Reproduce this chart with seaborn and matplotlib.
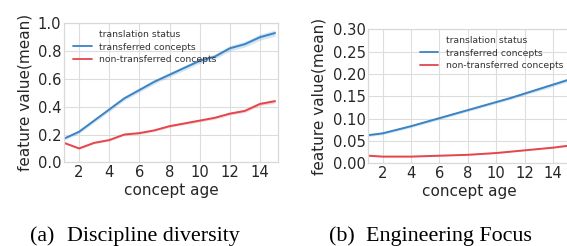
import numpy as np
import pandas as pd
import matplotlib
matplotlib.use("Agg")
import matplotlib.pyplot as plt
from matplotlib.lines import Line2D
import seaborn as sns

# ---- data ----
age = [1, 2, 3, 4, 5, 6, 7, 8, 9, 10, 11, 12, 13, 14, 15]
statuses = ["transferred concepts", "non-transferred concepts"]

div_transferred = [0.17, 0.22, 0.30, 0.38, 0.46, 0.52, 0.58, 0.63, 0.68, 0.73, 0.76, 0.82, 0.85, 0.90, 0.93]
div_transferred_ci = [0.010, 0.012, 0.013, 0.014, 0.015, 0.015, 0.016, 0.016, 0.017, 0.017, 0.018, 0.019, 0.020, 0.021, 0.022]
div_non = [0.14, 0.10, 0.14, 0.16, 0.20, 0.21, 0.23, 0.26, 0.28, 0.30, 0.32, 0.35, 0.37, 0.42, 0.44]
div_non_ci = [0.006, 0.006, 0.006, 0.007, 0.007, 0.008, 0.008, 0.008, 0.009, 0.009, 0.010, 0.010, 0.011, 0.012, 0.013]

eng_transferred = [0.063, 0.067, 0.075, 0.083, 0.092, 0.101, 0.110, 0.119, 0.128, 0.137, 0.146, 0.156, 0.166, 0.176, 0.186]
eng_transferred_ci = [0.003, 0.003, 0.003, 0.003, 0.003, 0.003, 0.003, 0.003, 0.003, 0.003, 0.003, 0.003, 0.004, 0.004, 0.004]
eng_non = [0.017, 0.015, 0.015, 0.015, 0.016, 0.017, 0.018, 0.019, 0.021, 0.023, 0.026, 0.029, 0.032, 0.035, 0.039]
eng_non_ci = [0.001, 0.001, 0.001, 0.001, 0.001, 0.001, 0.001, 0.001, 0.001, 0.001, 0.001, 0.001, 0.001, 0.001, 0.0015]

yticks_a = [0.0, 0.2, 0.4, 0.6, 0.8, 1.0]
yticks_b = [0.00, 0.05, 0.10, 0.15, 0.20, 0.25, 0.30]
xticks = [2, 4, 6, 8, 10, 12, 14]
caption_tags = ["(a)", "(b)"]
caption_titles = ["Discipline diversity", "Engineering Focus"]

colors = {"transferred concepts": "#3b84c4", "non-transferred concepts": "#e4464b"}

sns.set_theme(style="whitegrid")
plt.rcParams["font.family"] = ["DejaVu Sans"]

fig = plt.figure(figsize=(5.67, 2.46), dpi=100)
ax1 = fig.add_axes([0.1129, 0.3402, 0.3774, 0.5650])
ax2 = fig.add_axes([0.6496, 0.3362, 0.3556, 0.5447])


def draw(ax, tr, tr_ci, non, non_ci, yticks, yfmt, leg_anchor):
    df = pd.DataFrame({
        "concept age": age * 2,
        "value": tr + non,
        "translation status": [statuses[0]] * len(age) + [statuses[1]] * len(age),
    })
    sns.lineplot(data=df, x="concept age", y="value", hue="translation status",
                 hue_order=statuses, palette=colors, lw=1.4, ax=ax, errorbar=None)
    for s, v, c in ((statuses[0], tr, tr_ci), (statuses[1], non, non_ci)):
        v = np.array(v); c = np.array(c)
        ax.fill_between(age, v - c, v + c, color=colors[s], alpha=0.22, lw=0)
    ax.set_xlim(1, 15.2)
    ax.set_ylim(yticks[0], yticks[-1])
    ax.set_xticks(xticks)
    ax.set_yticks(yticks)
    ax.set_yticklabels([yfmt.format(t) for t in yticks])
    ax.tick_params(labelsize=10.6, pad=2, colors="#262626", length=0)
    ax.set_xlabel("concept age", fontsize=11, labelpad=2, color="#262626")
    ax.set_ylabel("feature value(mean)", fontsize=11, labelpad=4, color="#262626")
    ax.grid(True, color="#dddddd", lw=0.8)
    for sp in ax.spines.values():
        sp.set_color("#d9d9d9")
        sp.set_linewidth(0.9)
    hs = [Line2D([], [], alpha=0)] + [Line2D([], [], color=colors[s], lw=1.3) for s in statuses]
    ls = ["translation status"] + statuses
    ax.legend(hs, ls, loc="upper left", bbox_to_anchor=leg_anchor, frameon=False,
              fontsize=6.7, handlelength=2.0, handletextpad=0.8, labelspacing=0.35,
              borderaxespad=0, borderpad=0, labelcolor="#333333")


draw(ax1, div_transferred, div_transferred_ci, div_non, div_non_ci, yticks_a, "{:.1f}", (0.042, 0.95))
draw(ax2, eng_transferred, eng_transferred_ci, eng_non, eng_non_ci, yticks_b, "{:.2f}", (0.255, 0.948))

base_y = 5 / 246
for tag, title, xt, xs in ((caption_tags[0], caption_titles[0], 30, 67),
                           (caption_tags[1], caption_titles[1], 329, 366)):
    fig.text(xt / 567, base_y, tag, ha="left", va="baseline",
             family="Liberation Serif", fontsize=15.8, color="black")
    fig.text(xs / 567, base_y, title, ha="left", va="baseline",
             family="Liberation Serif", fontsize=15.8, color="black")

fig.savefig("out.png", dpi=100)
